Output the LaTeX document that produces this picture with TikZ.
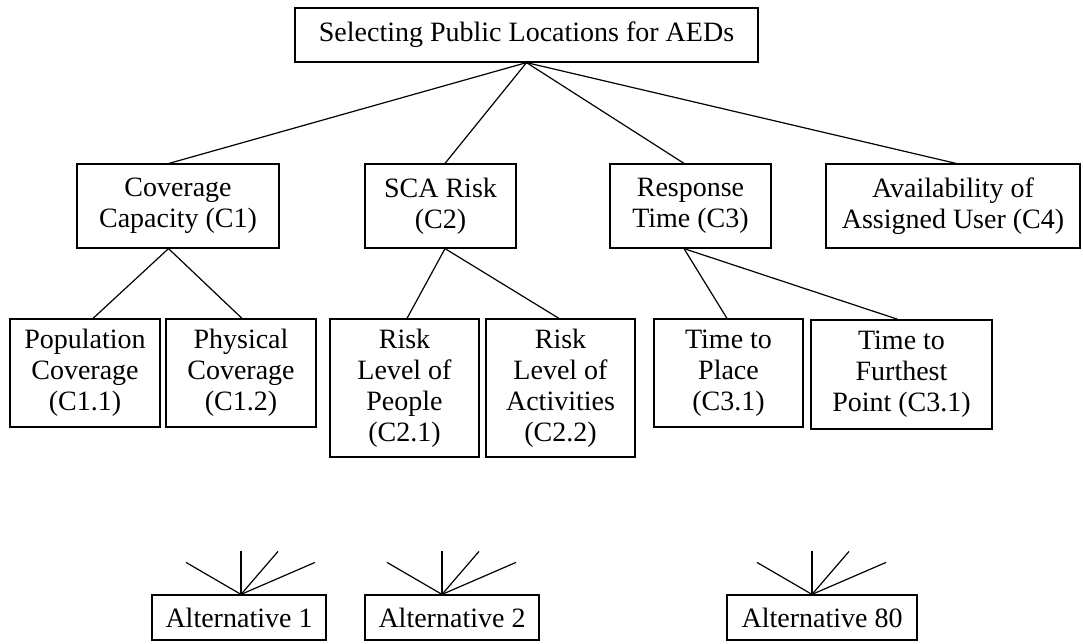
\documentclass[tikz,border=0pt]{standalone}
\usepackage{fontspec}
\setmainfont{Liberation Serif}
\usetikzlibrary{calc}
\begin{document}
\begin{tikzpicture}[x=1pt,y=-1pt,
  box/.style={draw, line width=1.2pt, align=center, inner sep=0pt,
    font=\fontsize{28}{31}\selectfont},
  conn/.style={line width=1.2pt}]
\useasboundingbox (0,0) rectangle (1083,643);
% level 0
\node[box, minimum width=463, minimum height=54] (top) at (526.5,35) {Selecting Public Locations for AEDs};
% level 1
\node[box, minimum width=202, minimum height=84] (c1) at (178,206) {Coverage\\Capacity (C1)};
\node[box, minimum width=151, minimum height=84] (c2) at (440.5,206) {SCA Risk\\(C2)};
\node[box, minimum width=161, minimum height=84] (c3) at (690.5,206) {Response\\Time (C3)};
\node[box, minimum width=254, minimum height=84] (c4) at (953,206) {Availability of\\Assigned User (C4)};
% level 2
\node[box, minimum width=150, minimum height=108] (p1) at (85,373) {Population\\Coverage\\(C1.1)};
\node[box, minimum width=150, minimum height=108] (p2) at (241,373) {Physical\\Coverage\\(C1.2)};
\node[box, minimum width=149, minimum height=138] (r1) at (404.5,388) {Risk\\Level of\\People\\(C2.1)};
\node[box, minimum width=149, minimum height=138] (r2) at (560.5,388) {Risk\\Level of\\Activities\\(C2.2)};
\node[box, minimum width=149, minimum height=108] (t1) at (728.5,373) {Time to\\Place\\(C3.1)};
\node[box, minimum width=181, minimum height=109] (t2) at (901.5,374.5) {Time to\\Furthest\\Point (C3.1)};
% alternatives
\node[box, minimum width=174, minimum height=45] (a1) at (239,617.5) {Alternative 1};
\node[box, minimum width=174, minimum height=45] (a2) at (452,617.5) {Alternative 2};
\node[box, minimum width=190, minimum height=45] (a80) at (822,617.5) {Alternative 80};
% connectors level 0 -> 1
\draw[conn] (top.south) -- ([xshift=-9pt]c1.north);
\draw[conn] (top.south) -- ([xshift=4.5pt]c2.north);
\draw[conn] (top.south) -- ([xshift=-6.5pt]c3.north);
\draw[conn] (top.south) -- ([xshift=3pt]c4.north);
% connectors level 1 -> 2
\draw[conn] ([xshift=-9.5pt]c1.south) -- ([xshift=8pt]p1.north);
\draw[conn] ([xshift=-9.5pt]c1.south) -- ([xshift=1pt]p2.north);
\draw[conn] ([xshift=4.5pt]c2.south) -- ([xshift=2.5pt]r1.north);
\draw[conn] ([xshift=4.5pt]c2.south) -- ([xshift=-1.5pt]r2.north);
\draw[conn] ([xshift=-6.5pt]c3.south) -- ([xshift=-1.5pt]t1.north);
\draw[conn] ([xshift=-6.5pt]c3.south) -- ([xshift=-3.5pt]t2.north);
% fans above alternatives
\foreach \a/\s in {a1/2, a2/-10, a80/-10} {
  \coordinate (\a-o) at ([xshift=\s pt]\a.north);
  \coordinate (\a-f1) at ($(\a-o)+(-55,-32)$);
  \coordinate (\a-f2) at ($(\a-o)+(0,-43)$);
  \coordinate (\a-f3) at ($(\a-o)+(37,-43)$);
  \coordinate (\a-f4) at ($(\a-o)+(74,-32)$);
  \draw[conn] (\a-o) -- (\a-f1);
  \draw[conn] (\a-o) -- (\a-f2);
  \draw[conn] (\a-o) -- (\a-f3);
  \draw[conn] (\a-o) -- (\a-f4);
}
\end{tikzpicture}
\end{document}
